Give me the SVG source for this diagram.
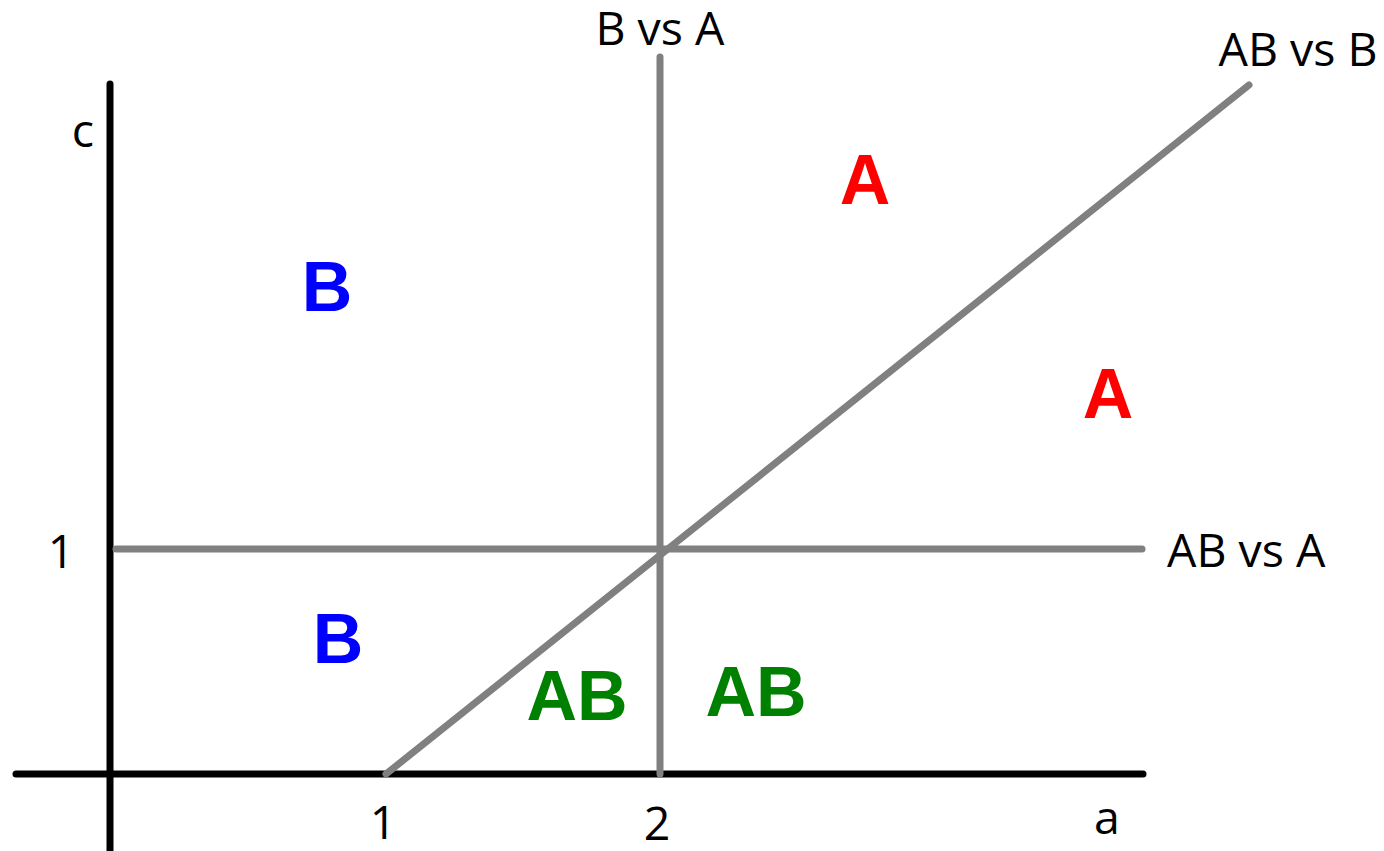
<svg xmlns="http://www.w3.org/2000/svg" width="1384" height="851" viewBox="0 0 1384 851">
<style>
.ax{stroke:#000;stroke-width:7;stroke-linecap:round;fill:none}
.ln{stroke:#808080;stroke-width:7;stroke-linecap:round;fill:none}
.lb{font-family:"Open Sans","Noto Sans",sans-serif;font-size:46.5px;fill:#000}
.rg{font-family:"Liberation Sans",Arial,sans-serif;font-weight:bold;font-size:70px;text-anchor:middle}
</style>
<rect width="1384" height="851" fill="#fff"/>
<g id="connectors">
<line class="ax" x1="110" y1="84" x2="110" y2="860"/>
<line class="ax" x1="16" y1="774" x2="1143" y2="774"/>
<line class="ln" x1="116" y1="549" x2="1142" y2="549"/>
<line class="ln" x1="660" y1="57" x2="660" y2="774"/>
<line class="ln" x1="386" y1="774" x2="1249" y2="85"/>
</g>
<g id="axis-labels">
<text class="lb" x="83" y="147" text-anchor="middle">c</text>
<text class="lb" x="1107" y="834" text-anchor="middle">a</text>
<text class="lb" x="61" y="568" text-anchor="middle">1</text>
<text class="lb" x="383" y="839" text-anchor="middle">1</text>
<text class="lb" x="657" y="840" text-anchor="middle">2</text>
</g>
<g id="line-labels">
<text class="lb" x="660" y="45" text-anchor="middle">B vs A</text>
<text class="lb" x="1298" y="66" text-anchor="middle">AB vs B</text>
<text class="lb" x="1167" y="567">AB vs A</text>
</g>
<g id="region-A1"><text class="rg" x="865" y="204" fill="#ff0000">A</text></g>
<g id="region-A2"><text class="rg" x="1108" y="418" fill="#ff0000">A</text></g>
<g id="region-B1"><text class="rg" x="327" y="311" fill="#0000ff">B</text></g>
<g id="region-B2"><text class="rg" x="338" y="663" fill="#0000ff">B</text></g>
<g id="region-AB1"><text class="rg" x="577" y="720" fill="#008000">AB</text></g>
<g id="region-AB2"><text class="rg" x="756" y="716" fill="#008000">AB</text></g>
</svg>
